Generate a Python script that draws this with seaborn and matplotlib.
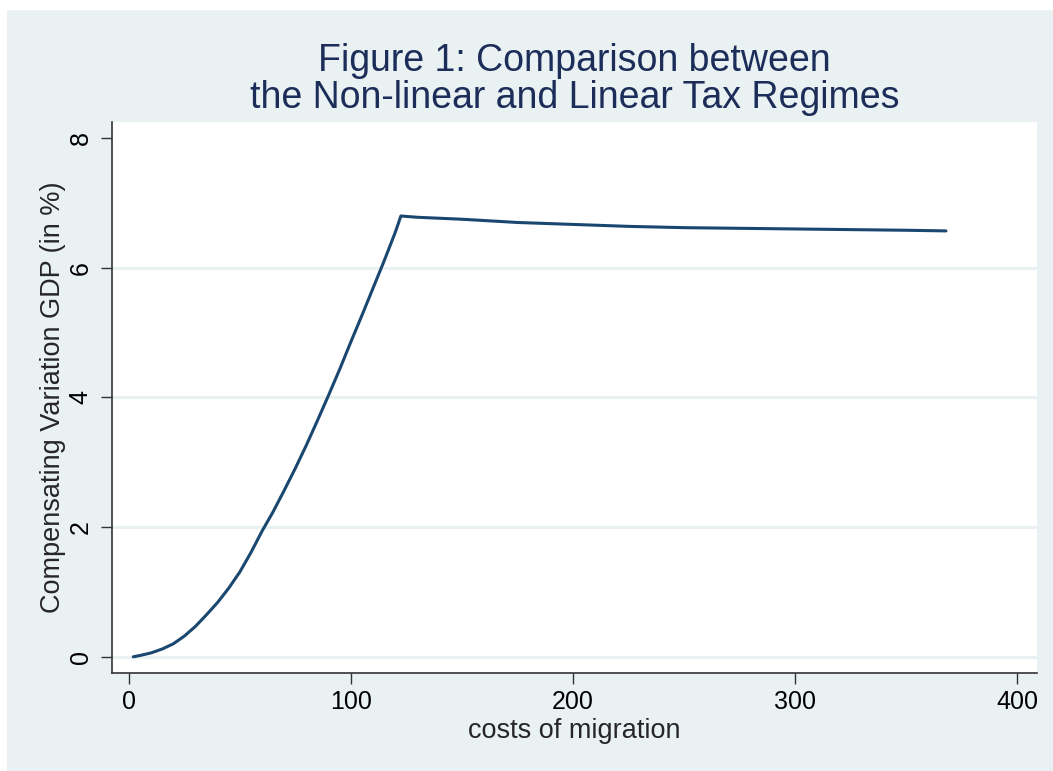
import pandas as pd
import seaborn as sns
import matplotlib.pyplot as plt
from matplotlib.patches import Rectangle

# values
migration_costs = [2, 5, 10, 15, 20, 25, 30, 35, 40, 45, 50, 55, 60, 65, 70, 75,
                   80, 85, 90, 95, 100, 105, 110, 115, 120, 122.5,
                   130, 150, 175, 200, 225, 250, 275, 300, 325, 350, 368]
comp_variation = [0.0, 0.02, 0.06, 0.12, 0.20, 0.32, 0.47, 0.65, 0.84, 1.06, 1.31, 1.61, 1.94, 2.24, 2.57, 2.91,
                  3.27, 3.65, 4.04, 4.44, 4.86, 5.27, 5.69, 6.11, 6.55, 6.80,
                  6.78, 6.75, 6.70, 6.67, 6.64, 6.62, 6.61, 6.60, 6.59, 6.58, 6.57]
x_ticks = [0, 100, 200, 300, 400]
y_ticks = [0, 2, 4, 6, 8]

title = "Figure 1: Comparison between\nthe Non-linear and Linear Tax Regimes"
x_label = "costs of migration"
y_label = "Compensating Variation GDP (in %)"

df = pd.DataFrame({"cost": migration_costs, "cv": comp_variation})

sns.set_style("white")
plt.rcParams["font.family"] = ["Liberation Sans", "DejaVu Sans"]

panel = "#EAF1F3"
fig = plt.figure(figsize=(10.53, 7.71), dpi=100, facecolor="white")
fig.patches.append(Rectangle((7 / 1053, 0), 1, 1 - 10 / 771, transform=fig.transFigure,
                             facecolor=panel, edgecolor="none", zorder=-10))
ax = fig.add_axes([112 / 1053, 1 - 673 / 771, 925 / 1053, 551 / 771])
ax.set_facecolor("white")

sns.lineplot(data=df, x="cost", y="cv", ax=ax, color="#1A476F", linewidth=2.2)

ax.set_xlim(-7.6, 409)
ax.set_ylim(-0.25, 8.25)
ax.set_xticks(x_ticks)
ax.set_yticks(y_ticks)
ax.set_yticklabels([str(v) for v in y_ticks], rotation=90, va="center")

# horizontal grid only
for v in y_ticks[:-1]:
    ax.axhline(v, color=panel, linewidth=2.2, zorder=0)

for side in ["top", "right"]:
    ax.spines[side].set_visible(False)
for side in ["left", "bottom"]:
    ax.spines[side].set_color("#333333")
    ax.spines[side].set_linewidth(1.2)

ax.tick_params(axis="both", direction="out", length=8, width=1.0, color="#333333",
               labelsize=18, labelcolor="black", bottom=True, left=True)
ax.tick_params(axis="x", pad=4)
ax.tick_params(axis="y", pad=6)

ax.set_xlabel(x_label, fontsize=19.5, labelpad=3)
ax.set_ylabel(y_label, fontsize=19.5, labelpad=2)
ax.set_title(title, fontsize=27, color="#1C2D5A", pad=10, linespacing=1.05)

fig.savefig("out.png", dpi=100, facecolor=fig.get_facecolor())
